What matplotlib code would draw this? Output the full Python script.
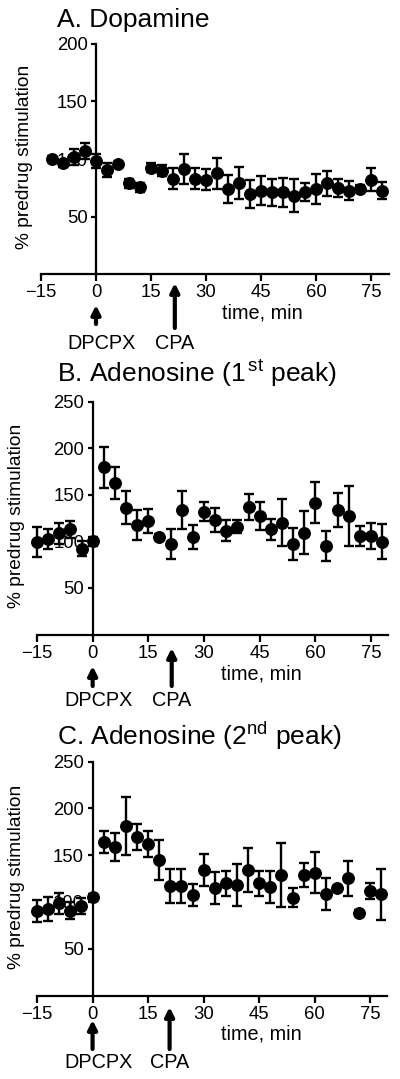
import matplotlib
matplotlib.use("Agg")
import matplotlib.pyplot as plt
import matplotlib.transforms as mtransforms

plt.rcParams['font.family'] = ['Liberation Sans', 'DejaVu Sans']
plt.rcParams['mathtext.fontset'] = 'custom'
plt.rcParams['mathtext.rm'] = 'Liberation Sans'

W, H = 400, 1079

# Panel A: dopamine
t_a = [-12, -9, -6, -3, 0, 3, 6, 9, 12, 15, 18, 21, 24, 27, 30, 33, 36, 39, 42, 45,
       48, 51, 54, 57, 60, 63, 66, 69, 72, 75, 78]
y_a = [100, 96.4, 102, 107, 98.4, 90.6, 95.8, 79, 75.5, 92.6, 90, 82.8, 91.4, 82.8,
       81.9, 87.7, 74, 79, 69.7, 72.6, 70.9, 70.9, 68.2, 71.2, 73.8, 79, 74.7, 72.6,
       74, 81.9, 72.6]
e_a = [3, 3, 7, 7, 6, 6, 2, 4, 4, 4, 5, 9, 13, 9, 9, 13.5, 12, 14, 12, 13, 12, 13,
       14, 8, 13, 11, 8, 8, 3, 10, 7]

# Panel B: adenosine 1st peak
t_b = [-15, -12, -9, -6, -3, 0, 3, 6, 9, 12, 15, 18, 21, 24, 27, 30, 33, 36, 39, 42,
       45, 48, 51, 54, 57, 60, 63, 66, 69, 72, 75, 78]
y_b = [99, 102.6, 108.7, 113, 92, 100, 179.6, 162.4, 136.2, 117.6, 121.9, 104.4, 97,
       133.7, 104.4, 131.9, 123.3, 111.5, 115.8, 137.3, 127.3, 113, 120, 97.2, 109.4,
       141.6, 95.1, 133.7, 127.3, 105.8, 105.8, 99.7]
e_b = [16, 11, 11, 9, 8, 5, 22, 17, 18, 16, 13, 3, 16, 20, 13, 10, 13, 11, 7, 14, 15,
       11, 25, 17, 23, 22, 16, 18, 32, 11, 14, 19]

# Panel C: adenosine 2nd peak
t_c = t_b
y_c = [90.6, 92.5, 98.6, 90.6, 95.7, 105.6, 164.4, 158.4, 181.2, 169.1, 162, 144.9,
       117.1, 117.1, 107.4, 134.2, 115, 119.9, 118.1, 134.2, 119.9, 116.3, 128.8, 104.5,
       128.8, 131.3, 108.2, 114.6, 125.3, 88.5, 111.7, 108.2]
e_c = [12, 13, 11, 9, 9, 3, 12, 15, 31, 14, 14, 21, 18, 18, 12, 17, 17, 13, 22, 24,
       13, 17, 34, 10, 13, 22, 17, 3, 19, 3, 9, 27]

x_ticks = [-15, 0, 15, 30, 45, 60, 75]
dpcpx_t = 0
cpa_t = [21.5, 21.3, 20.8]

fig = plt.figure(figsize=(W / 100, H / 100), dpi=100)


def box(x0, x1, ytop, ybot):
    return [x0 / W, 1 - ybot / H, (x1 - x0) / W, (ybot - ytop) / H]


def fy(py):
    return 1 - py / H


def panel(rect, t, y, e, xlim, ylim, yticks, title, title_y, cpa, arr, lab_y, ylab_x):
    ax = fig.add_axes(rect)
    ax.errorbar(t, y, yerr=e, fmt='o', color='black', ms=8.3, elinewidth=1.7,
                capsize=3.4, capthick=1.7, zorder=3, clip_on=False)
    ax.set_xlim(*xlim)
    ax.set_ylim(*ylim)
    ax.set_xticks(x_ticks)
    ax.set_yticks(yticks)
    ax.spines['left'].set_position(('data', 0))
    ax.spines['top'].set_visible(False)
    ax.spines['right'].set_visible(False)
    for s in ('left', 'bottom'):
        ax.spines[s].set_linewidth(1.6)
    ax.tick_params(axis='x', direction='out', length=5, width=1.6, labelsize=13.3, pad=2.5)
    ax.tick_params(axis='y', direction='out', length=3.6, width=1.6, labelsize=13.3, pad=2.5)
    ax.patch.set_visible(False)

    top = (1 - rect[1] - rect[3]) * H
    bot = (1 - rect[1]) * H
    fig.text(57 / W, fy(title_y), title, fontsize=19, ha='left', va='baseline')
    fig.text(ylab_x / W, fy((top + bot) / 2 - 2), '% predrug stimulation',
             rotation=90, fontsize=13.8, ha='center', va='center')

    trans = mtransforms.blended_transform_factory(ax.transData, fig.transFigure)
    d_tip, d_tail, c_tip, c_tail, xl_y = arr
    ap = dict(arrowstyle='-|>', lw=3, color='black', mutation_scale=13,
              shrinkA=0, shrinkB=0)
    ax.annotate('', xy=(dpcpx_t, fy(d_tip)), xytext=(dpcpx_t, fy(d_tail)),
                xycoords=trans, textcoords=trans, arrowprops=ap, annotation_clip=False)
    ax.annotate('', xy=(cpa, fy(c_tip)), xytext=(cpa, fy(c_tail)),
                xycoords=trans, textcoords=trans, arrowprops=ap, annotation_clip=False)
    ax.text(dpcpx_t + 1.6, fy(lab_y), 'DPCPX', transform=trans, fontsize=14.3,
            ha='center', va='center')
    ax.text(cpa, fy(lab_y), 'CPA', transform=trans, fontsize=14.3, ha='center', va='center')
    ax.text(45.5, fy(xl_y), 'time, min', transform=trans, fontsize=14.3,
            ha='center', va='center')
    return ax


panel(box(41, 389.3, 44, 274), t_a, y_a, e_a, (-15, 80), (0, 200), [50, 100, 150, 200],
      'A. Dopamine', 27, cpa_t[0], (305, 324, 283, 328, 313), 343, 25)
panel(box(37, 387.7, 401.7, 634.5), t_b, y_b, e_b, (-15, 79.5), (0, 250),
      [50, 100, 150, 200, 250], r'B. Adenosine (1$^{\,\mathrm{st}}$ peak)', 382,
      cpa_t[1], (666, 686, 648, 686, 674), 700, 17)
panel(box(37, 387, 761.7, 995.5), t_c, y_c, e_c, (-15, 79.5), (0, 250),
      [50, 100, 150, 200, 250], r'C. Adenosine (2$^{\mathrm{nd}}$ peak)', 745,
      cpa_t[2], (1020, 1049, 1007, 1049, 1034), 1062, 17)

fig.savefig('out.png', dpi=100)
